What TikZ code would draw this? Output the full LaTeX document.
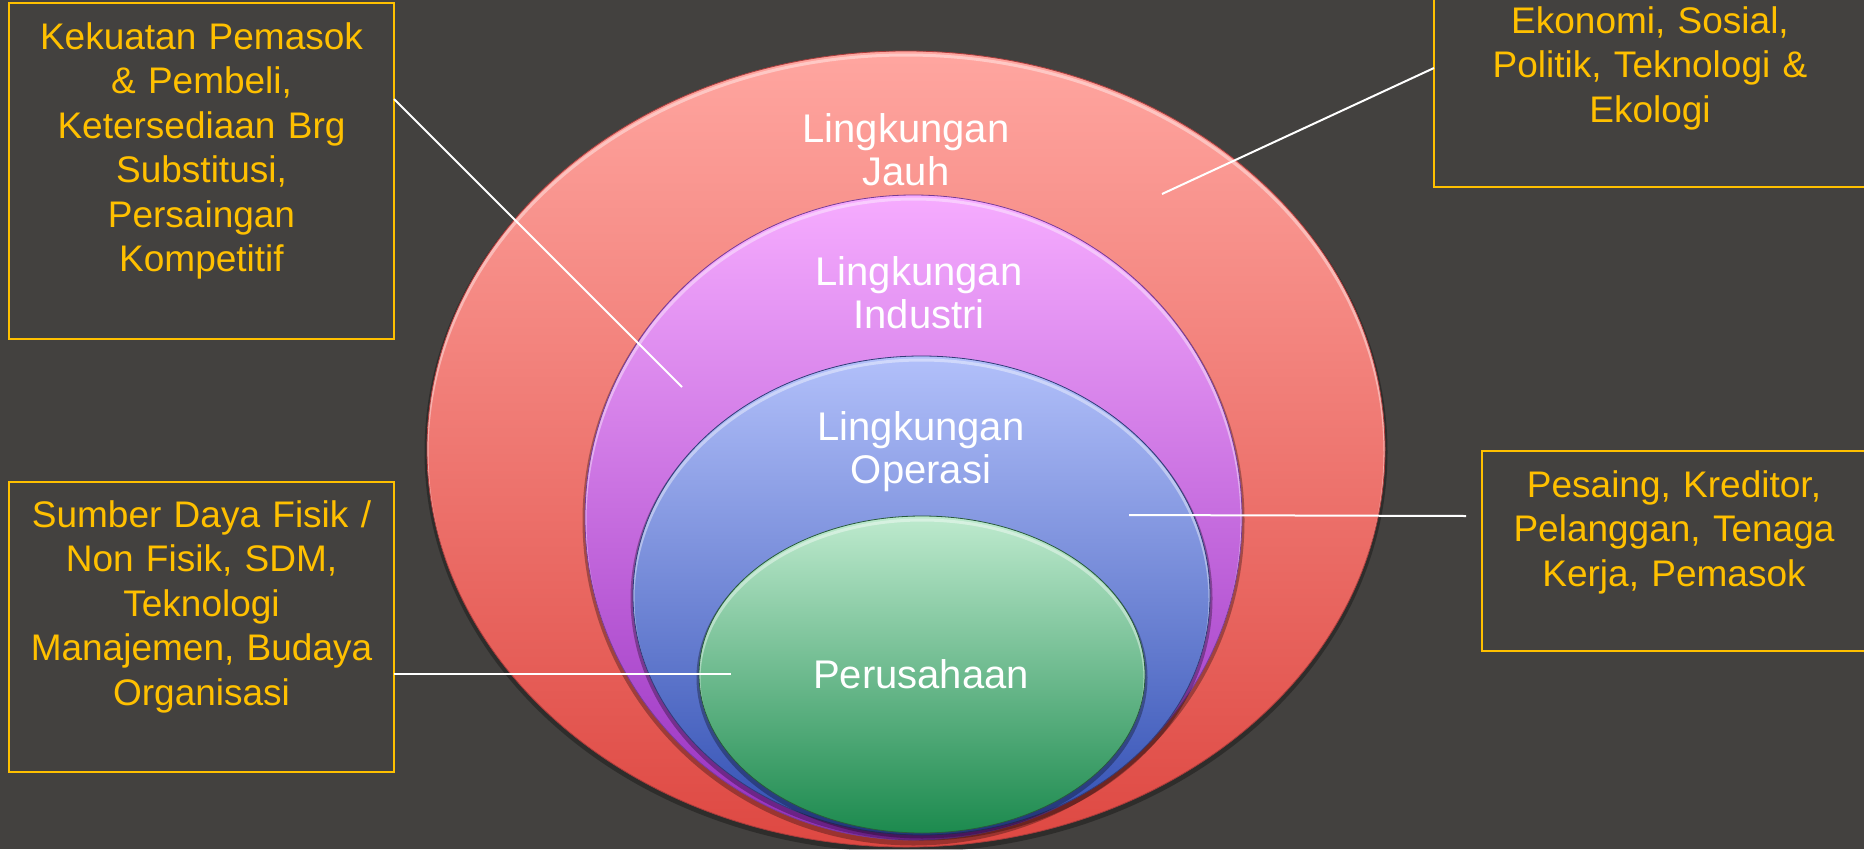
\documentclass[tikz,border=0pt]{standalone}
\usepackage{fontspec}
\setmainfont{Liberation Sans}
\usetikzlibrary{calc}
\definecolor{bg}{RGB}{67,65,63}
\definecolor{yel}{RGB}{255,192,0}
\definecolor{redT}{RGB}{255,166,160}
\definecolor{redB}{RGB}{222,72,66}
\definecolor{redE}{RGB}{170,60,60}
\definecolor{pinkT}{RGB}{246,172,255}
\definecolor{pinkB}{RGB}{150,45,190}
\definecolor{pinkE}{RGB}{120,60,150}
\definecolor{blueT}{RGB}{178,192,250}
\definecolor{blueB}{RGB}{48,78,178}
\definecolor{blueE}{RGB}{50,60,120}
\definecolor{greenT}{RGB}{190,234,206}
\definecolor{greenB}{RGB}{28,138,78}
\definecolor{greenE}{RGB}{40,90,60}
\newcommand\myell[7]{%
  \fill[black,opacity=.30] (#1,#2+3) ellipse [x radius=#3pt+2.5pt, y radius=#4pt+2.5pt];
  \shade[top color=#5, bottom color=#6] (#1,#2) ellipse [x radius=#3pt, y radius=#4pt];
  \begin{scope}
    \clip (#1,#2) ellipse [x radius=#3pt, y radius=#4pt];
    \draw[white, opacity=.40, line width=3pt] (#1,#2+4) ellipse [x radius=#3pt, y radius=#4pt];
  \end{scope}
  \draw[#7, line width=.8pt] (#1,#2) ellipse [x radius=#3pt, y radius=#4pt];
}
\begin{document}
\begin{tikzpicture}[x=1pt,y=-1pt,
  infobox/.style={draw=yel, line width=2.5pt, inner sep=0pt, outer sep=0pt, rectangle},
  infotext/.style={text=yel, anchor=base, align=center, inner sep=0pt,
    font=\fontsize{37}{44.5}\selectfont},
  elllabel/.style={text=white, anchor=base, align=center, inner sep=0pt, text width=320pt,
    font=\fontsize{40}{43}\selectfont},
  conn/.style={draw=white, line width=2pt}]
\useasboundingbox (0,0) rectangle (1864,849);
\fill[bg] (0,0) rectangle (1864,849);

% ellipses
\myell{906}{449}{479}{398}{redT}{redB}{redE}
\myell{913.5}{517.5}{328.5}{322.5}{pinkT}{pinkB}{pinkE}
\myell{921.5}{595.5}{288.5}{239.5}{blueT}{blueB}{blueE}
\myell{922}{674.5}{223}{158.5}{greenT}{greenB}{greenE}

% ellipse labels
\node[elllabel] (jauh) at (906,142) {Lingkungan\\Jauh};
\node[elllabel] (ind) at (919,285) {Lingkungan\\Industri};
\node[elllabel] (ops) at (921,440) {Lingkungan\\Operasi};
\node[elllabel] (per) at (921,688) {Perusahaan};

% boxes
\node[infobox, minimum width=385pt, minimum height=336pt] (tl) at (201.5,171) {};
\node[infobox, minimum width=432pt, minimum height=200pt] (tr) at (1650,87) {};
\node[infobox, minimum width=384pt, minimum height=200pt] (rb) at (1674,551) {};
\node[infobox, minimum width=385pt, minimum height=290pt] (bl) at (201.5,627) {};

\node[infotext, text width=380pt] (tlt) at ([yshift=-46pt]tl.north)
  {Kekuatan Pemasok\\\& Pembeli,\\Ketersediaan Brg\\Substitusi,\\Persaingan\\Kompetitif};
\node[infotext, text width=420pt] (trt) at ([yshift=-46pt]tr.north)
  {Ekonomi, Sosial,\\Politik, Teknologi \&\\Ekologi};
\node[infotext, text width=380pt] (rbt) at ([yshift=-46pt]rb.north)
  {Pesaing, Kreditor,\\Pelanggan, Tenaga\\Kerja, Pemasok};
\node[infotext, text width=380pt] (blt) at ([yshift=-45pt]bl.north)
  {Sumber Daya Fisik /\\Non Fisik, SDM,\\Teknologi\\Manajemen, Budaya\\Organisasi};

% connector ends
\coordinate (e1) at (682,387);
\coordinate (e2) at (1162,194);
\coordinate (s3) at ([xshift=-16pt,yshift=35pt]rb.west);
\coordinate (e3) at (1129,515);
\coordinate (e4) at (731,674);

\draw[conn] ([yshift=-96pt]tl.north east) -- (e1);
\draw[conn] ([yshift=-81pt]tr.north west) -- (e2);
\draw[conn] (s3) -- (e3);
\draw[conn] ([yshift=-192pt]bl.north east) -- (e4);
\end{tikzpicture}
\end{document}
